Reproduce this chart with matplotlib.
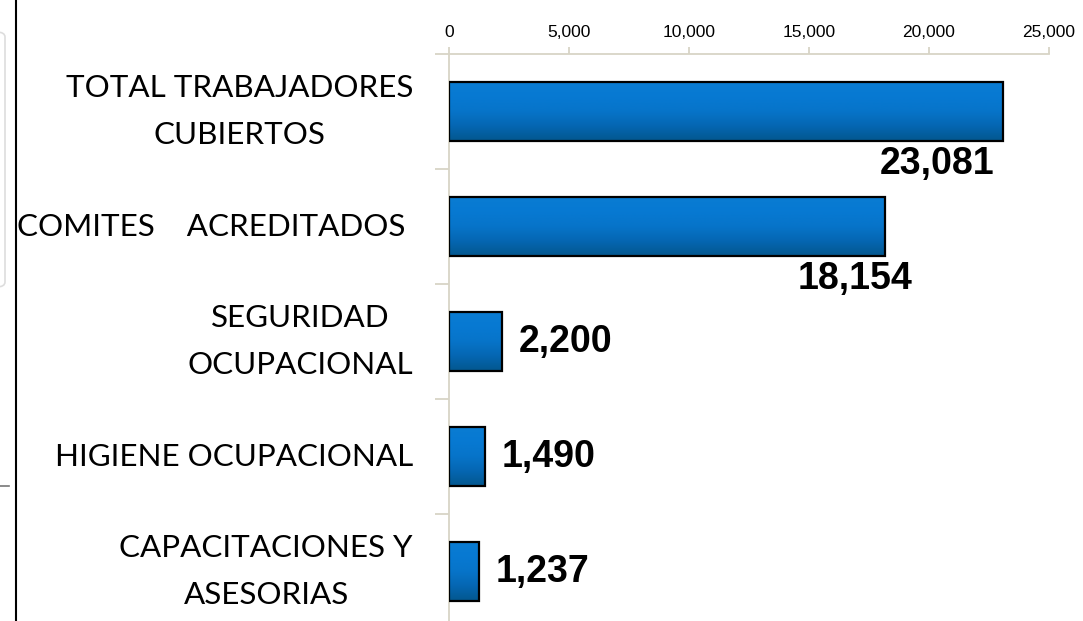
import numpy as np
import matplotlib.pyplot as plt
from matplotlib.patches import FancyBboxPatch
from matplotlib.lines import Line2D
from matplotlib.colors import LinearSegmentedColormap

# data
categories = ['TOTAL TRABAJADORES\nCUBIERTOS',
              'COMITES    ACREDITADOS ',
              'SEGURIDAD\nOCUPACIONAL',
              'HIGIENE OCUPACIONAL',
              'CAPACITACIONES Y\nASESORIAS']
values = [23081, 18154, 2200, 1490, 1237]
x_ticks = [0, 5000, 10000, 15000, 20000, 25000]

# label placement (points), kept apart from the data
label_below = [True, True, False, False, False]
label_dx = [-6, 20, 12, 12, 12]

axis_color = '#D8D4C6'
bar_cmap = LinearSegmentedColormap.from_list(
    'bevel', ['#0A7CD3', '#0779D2', '#0774C9', '#0566B2', '#03578F'])

fig = plt.figure(figsize=(10.83, 6.21), dpi=100)
ax = fig.add_axes([449 / 1083, -0.0129, 600 / 1083, 575 / 621])

y = np.arange(len(values))
bars = ax.barh(y, values, height=0.51, color='none', edgecolor='black',
               linewidth=1.6, zorder=4)

# vertical gradient inside each bar, for the bevel look
grad = np.linspace(0, 1, 64).reshape(-1, 1)
for b in bars:
    x0, y0 = b.get_x(), b.get_y()
    w, h = b.get_width(), b.get_height()
    im = ax.imshow(grad, cmap=bar_cmap, aspect='auto', zorder=3,
                   extent=(x0, x0 + w, y0 + h, y0), interpolation='bicubic')
    im.set_clip_path(b)

ax.set_xlim(0, 25000)
ax.set_ylim(len(values) - 0.5, -0.5)
ax.xaxis.tick_top()
ax.set_xticks(x_ticks)
ax.set_xticklabels([f'{v:,}' for v in x_ticks], fontsize=12.5,
                   family='Liberation Sans')
ax.tick_params(axis='x', length=5, color=axis_color, width=1.3, pad=5)

ax.set_yticks(y)
ax.set_yticklabels(categories, fontsize=22.6, family='Lato', ha='right',
                   va='center', multialignment='center', linespacing=1.85)
ax.tick_params(axis='y', length=0, pad=26)
ax.set_yticks(np.arange(len(values) + 1) - 0.5, minor=True)
ax.tick_params(axis='y', which='minor', length=10, color=axis_color, width=1.3)

for side in ['right', 'bottom']:
    ax.spines[side].set_visible(False)
for side in ['left', 'top']:
    ax.spines[side].set_color(axis_color)
    ax.spines[side].set_linewidth(1.3)
    ax.spines[side].set_zorder(1)

for i, v in enumerate(values):
    if label_below[i]:
        ax.annotate(f'{v:,}', (v, i + 0.255), xytext=(label_dx[i], -4),
                    textcoords='offset points', ha='right', va='top',
                    fontsize=27, fontweight='bold', family='Liberation Sans')
    else:
        ax.annotate(f'{v:,}', (v, i), xytext=(label_dx[i], 0),
                    textcoords='offset points', ha='left', va='center',
                    fontsize=27, fontweight='bold', family='Liberation Sans')

# leftovers of the surrounding page
fig.add_artist(Line2D([16 / 1083, 16 / 1083], [0, 1], color='black', lw=1.5))
fig.add_artist(Line2D([0, 9 / 1083], [1 - 486 / 621, 1 - 486 / 621],
                      color='#777777', lw=1.2))
fig.add_artist(FancyBboxPatch((-20 / 1083, 1 - 287 / 621), 25 / 1083,
                              255 / 621, boxstyle='round,pad=0,rounding_size=0.008',
                              fc='white', ec='#DDDDDD', lw=1.2))

fig.savefig('out.png', dpi=100)
